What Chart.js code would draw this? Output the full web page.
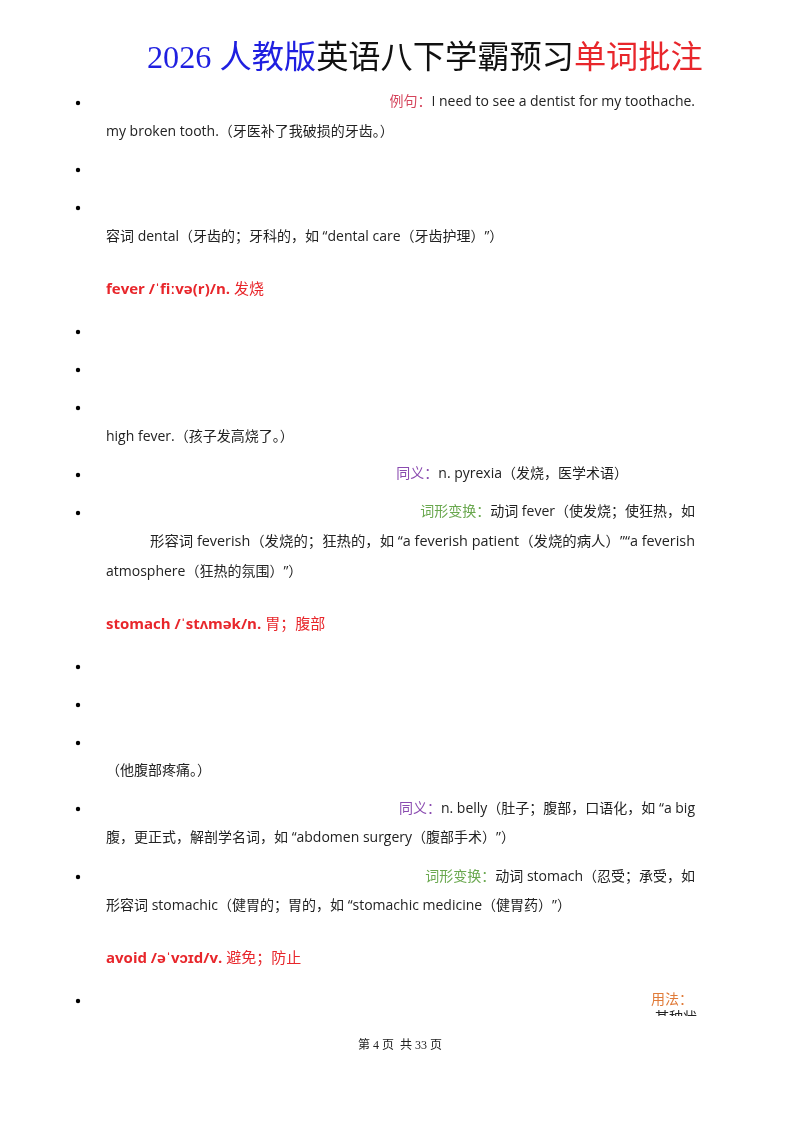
<!DOCTYPE html>
<html><head><meta charset="utf-8">
<script src="https://cdn.jsdelivr.net/npm/chart.js@4"></script>
<style>html,body{margin:0;padding:0;background:#fff}canvas{display:block}</style>
</head><body>
<canvas id="c" width="800" height="1132"></canvas>
<script>
// Document content (segments: [text, colorKey, bold])
const titleParts = [["2026 ", "blue"], ["人教版", "blue"], ["英语八下学霸预习", "black"], ["单词批注", "red"]];
const bulletRows = [103,170,208,332,370,408,475,513,667,705,743,809,877,1001];
const lines = [
  {y:102, align:"right", x:695, segs:[["例句：","pink"],["I need to see a dentist for my toothache.","text"]]},
  {y:132, x:106, segs:[["my broken tooth.（牙医补了我破损的牙齿。）","text"]]},
  {y:237, x:106, segs:[["容词 dental（牙齿的；牙科的，如 “dental care（牙齿护理）”）","text"]]},
  {y:290, x:106, head:true, segs:[["fever /ˈfiːvə(r)/n. ","red",true],["发烧","red"]]},
  {y:437, x:106, segs:[["high fever.（孩子发高烧了。）","text"]]},
  {y:474, align:"right", x:628, segs:[["同义：","purple"],["n. pyrexia（发烧，医学术语）","text"]]},
  {y:512, align:"right", x:695, segs:[["词形变换：","green"],["动词 fever（使发烧；使狂热，如","text"]]},
  {y:542, x:150, justify:695, segs:[["形容词 feverish（发烧的；狂热的，如 “a feverish patient（发烧的病人）”“a feverish","text"]]},
  {y:572, x:106, segs:[["atmosphere（狂热的氛围）”）","text"]]},
  {y:625, x:106, head:true, segs:[["stomach /ˈstʌmək/n. ","red",true],["胃；腹部","red"]]},
  {y:771, x:106, segs:[["（他腹部疼痛。）","text"]]},
  {y:809, align:"right", x:695, segs:[["同义：","purple"],["n. belly（肚子；腹部，口语化，如 “a big","text"]]},
  {y:838, x:106, segs:[["腹，更正式，解剖学名词，如 “abdomen surgery（腹部手术）”）","text"]]},
  {y:877, align:"right", x:695, segs:[["词形变换：","green"],["动词 stomach（忍受；承受，如","text"]]},
  {y:906, x:106, segs:[["形容词 stomachic（健胃的；胃的，如 “stomachic medicine（健胃药）”）","text"]]},
  {y:959, x:106, head:true, segs:[["avoid /əˈvɔɪd/v. ","red",true],["避免；防止","red"]]},
  {y:1000, align:"right", x:693, segs:[["用法：","orange"]]}
];
const footer = "第 4 页  共 33 页";

const colors = {blue:"#1f1fe0", black:"#111", red:"#e8262b", text:"#222", pink:"#d5455c", purple:"#8a4bb0", green:"#6aa84f", orange:"#e07b39"};
const FF = '"Open Sans","Noto Sans CJK SC",sans-serif';

const docPlugin = {
  id: "doc",
  afterDraw(chart) {
    const ctx = chart.ctx;
    ctx.save();
    ctx.fillStyle = "#fff";
    ctx.textBaseline = "middle";
    // title
    let size = 34;
    const tf = s => `${s}px "Liberation Serif","Noto Sans CJK SC",serif`;
    ctx.font = tf(size);
    let w = titleParts.reduce((a,p)=>a+ctx.measureText(p[0]).width,0);
    size = size * 556 / w; ctx.font = tf(size);
    let x = 147;
    titleParts.forEach(p => { ctx.fillStyle = colors[p[1]]; ctx.fillText(p[0], x, 60); x += ctx.measureText(p[0]).width; });
    // bullets
    ctx.fillStyle = "#000";
    bulletRows.forEach(y => { ctx.beginPath(); ctx.arc(78, y, 2.2, 0, Math.PI*2); ctx.fill(); });
    // lines
    lines.forEach(l => {
      const font = (b)=> `${b?"bold ":""}${l.head?15:14}px ${FF}`;
      let total = 0;
      l.segs.forEach(s => { ctx.font = font(s[2]); total += ctx.measureText(s[0]).width; });
      let sx = l.align === "right" ? l.x - total : l.x;
      let scale = 1;
      if (l.justify) scale = (l.justify - l.x) / total;
      l.segs.forEach(s => {
        ctx.font = font(s[2]); ctx.fillStyle = colors[s[1]];
        const mw = ctx.measureText(s[0]).width;
        if (scale !== 1) { ctx.save(); ctx.translate(sx, l.y); ctx.scale(scale,1); ctx.fillText(s[0],0,0); ctx.restore(); }
        else ctx.fillText(s[0], sx, l.y);
        sx += mw * scale;
      });
    });
    // clipped fragment
    ctx.save(); ctx.beginPath(); ctx.rect(600, 1006, 120, 10); ctx.clip();
    ctx.font = `14px ${FF}`; ctx.fillStyle = colors.text; ctx.textAlign = "right"; ctx.fillText("某种状", 697, 1018); ctx.restore();
    // footer
    ctx.font = `12px "Liberation Serif","Noto Sans CJK SC",serif`; ctx.fillStyle = "#222"; ctx.textAlign = "center";
    ctx.fillText(footer, 400, 1046);
    ctx.restore();
  }
};

new Chart(document.getElementById("c"), {
  type: "scatter",
  data: { datasets: [{ data: [] }] },
  options: {
    responsive: false, animation: false,
    plugins: { legend: { display: false }, tooltip: { enabled: false } },
    scales: { x: { display: false }, y: { display: false } }
  },
  plugins: [docPlugin]
});
</script>
</body></html>
